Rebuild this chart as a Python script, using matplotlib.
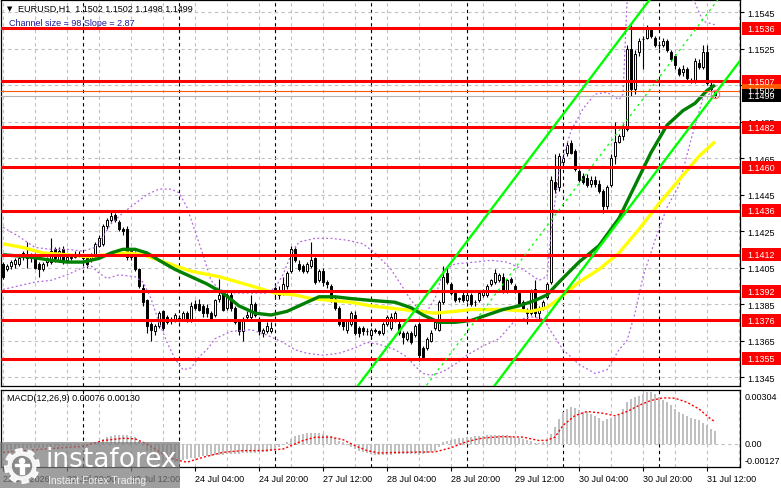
import matplotlib
matplotlib.use("Agg")
import matplotlib.pyplot as plt
from matplotlib.patches import Rectangle, Circle
import numpy as np

plt.rcParams['font.family'] = ['Liberation Sans', 'DejaVu Sans']

# EURUSD H1 candles, bar 0 = 22 Jul 04:00
opens = [
    1.1407, 1.1404, 1.1406, 1.1407, 1.1407, 1.1411, 1.1412, 1.1410, 1.1411, 1.1407,
    1.1404, 1.1408, 1.1408, 1.1415, 1.1409, 1.1415, 1.1409, 1.1410, 1.1411, 1.1412,
    1.1411, 1.1410, 1.1409, 1.1412, 1.1417, 1.1418, 1.1428, 1.1431, 1.1434, 1.1430,
    1.1426, 1.1426, 1.1411, 1.1413, 1.1404, 1.1394, 1.1387, 1.1374, 1.1370, 1.1373,
    1.1381, 1.1378, 1.1377, 1.1376, 1.1377, 1.1377, 1.1380, 1.1376, 1.1385, 1.1385,
    1.1384, 1.1383, 1.1380, 1.1379, 1.1388, 1.1391, 1.1383, 1.1390, 1.1383, 1.1376,
    1.1370, 1.1378, 1.1378, 1.1385, 1.1377, 1.1369, 1.1370, 1.1370, 1.1394, 1.1392,
    1.1391, 1.1395, 1.1403, 1.1415, 1.1407, 1.1406, 1.1403, 1.1406, 1.1410, 1.1398,
    1.1403, 1.1397, 1.1395, 1.1388, 1.1383, 1.1376, 1.1371, 1.1374, 1.1379, 1.1372,
    1.1372, 1.1370, 1.1368, 1.1371, 1.1370, 1.1369, 1.1374, 1.1372, 1.1376, 1.1374,
    1.1369, 1.1366, 1.1369, 1.1368, 1.1374, 1.1361, 1.1361, 1.1365, 1.1372, 1.1371,
    1.1386, 1.1402, 1.1396, 1.1391, 1.1388, 1.1390, 1.1387, 1.1390, 1.1386, 1.1387,
    1.1390, 1.1390, 1.1396, 1.1397, 1.1398, 1.1400, 1.1392, 1.1399, 1.1395, 1.1391,
    1.1386, 1.1382, 1.1380, 1.1393, 1.1380, 1.1383, 1.1389, 1.1397, 1.1452, 1.1449,
    1.1463, 1.1468, 1.1473, 1.1469, 1.1458, 1.1455, 1.1454, 1.1451, 1.1453, 1.1451,
    1.1447, 1.1439, 1.1450, 1.1466, 1.1474, 1.1477, 1.1481, 1.1525, 1.1503, 1.1523,
    1.1530, 1.1531, 1.1535, 1.1531, 1.1527, 1.1527, 1.1529, 1.1523, 1.1521, 1.1514,
    1.1512, 1.1514, 1.1508, 1.1507, 1.1517, 1.1515, 1.1523, 1.1505, 1.1502]
highs = [
    1.1408, 1.1407, 1.1409, 1.1410, 1.1411, 1.1414, 1.1419, 1.1413, 1.1413, 1.1408,
    1.1408, 1.1411, 1.1421, 1.1416, 1.1416, 1.1417, 1.1412, 1.1412, 1.1414, 1.1414,
    1.1412, 1.1411, 1.1413, 1.1419, 1.1423, 1.1429, 1.1432, 1.1436, 1.1435, 1.1431,
    1.1427, 1.1428, 1.1415, 1.1414, 1.1405, 1.1396, 1.1388, 1.1375, 1.1374, 1.1381,
    1.1382, 1.1379, 1.1378, 1.1380, 1.1379, 1.1381, 1.1381, 1.1386, 1.1387, 1.1388,
    1.1385, 1.1385, 1.1381, 1.1388, 1.1399, 1.1392, 1.1391, 1.1392, 1.1384, 1.1377,
    1.1378, 1.1381, 1.1390, 1.1386, 1.1378, 1.1372, 1.1375, 1.1375, 1.1396, 1.1395,
    1.1400, 1.1403, 1.1417, 1.1417, 1.1409, 1.1407, 1.1408, 1.1419, 1.1411, 1.1404,
    1.1405, 1.1398, 1.1396, 1.1389, 1.1384, 1.1377, 1.1377, 1.1381, 1.1381, 1.1373,
    1.1373, 1.1372, 1.1372, 1.1372, 1.1371, 1.1375, 1.1379, 1.1380, 1.1381, 1.1376,
    1.1370, 1.1370, 1.1370, 1.1374, 1.1375, 1.1362, 1.1367, 1.1371, 1.1376, 1.1387,
    1.1406, 1.1406, 1.1397, 1.1392, 1.1389, 1.1392, 1.1392, 1.1391, 1.1387, 1.1392,
    1.1393, 1.1396, 1.1399, 1.1404, 1.1402, 1.1402, 1.1399, 1.1400, 1.1396, 1.1392,
    1.1387, 1.1383, 1.1393, 1.1398, 1.1384, 1.1387, 1.1397, 1.1455, 1.1467, 1.1468,
    1.1467, 1.1474, 1.1475, 1.1470, 1.1459, 1.1457, 1.1456, 1.1455, 1.1455, 1.1453,
    1.1448, 1.1450, 1.1467, 1.1485, 1.1478, 1.1484, 1.1527, 1.1538, 1.1524, 1.1531,
    1.1532, 1.1538, 1.1537, 1.1532, 1.1529, 1.1531, 1.1530, 1.1524, 1.1522, 1.1515,
    1.1516, 1.1515, 1.1509, 1.1520, 1.1519, 1.1527, 1.1527, 1.1508, 1.1502]
lows = [
    1.1399, 1.1403, 1.1404, 1.1405, 1.1406, 1.1409, 1.1405, 1.1408, 1.1404, 1.1400,
    1.1403, 1.1406, 1.1407, 1.1408, 1.1408, 1.1407, 1.1408, 1.1409, 1.1410, 1.1411,
    1.1409, 1.1405, 1.1408, 1.1411, 1.1416, 1.1417, 1.1426, 1.1430, 1.1430, 1.1425,
    1.1423, 1.1409, 1.1409, 1.1403, 1.1394, 1.1384, 1.1369, 1.1365, 1.1368, 1.1372,
    1.1371, 1.1374, 1.1374, 1.1375, 1.1375, 1.1376, 1.1375, 1.1375, 1.1382, 1.1381,
    1.1378, 1.1378, 1.1376, 1.1378, 1.1386, 1.1381, 1.1382, 1.1381, 1.1374, 1.1368,
    1.1365, 1.1377, 1.1377, 1.1378, 1.1368, 1.1367, 1.1369, 1.1369, 1.1389, 1.1388,
    1.1390, 1.1393, 1.1402, 1.1408, 1.1403, 1.1402, 1.1402, 1.1405, 1.1396, 1.1397,
    1.1395, 1.1394, 1.1386, 1.1382, 1.1373, 1.1371, 1.1369, 1.1373, 1.1368, 1.1367,
    1.1368, 1.1368, 1.1366, 1.1369, 1.1368, 1.1368, 1.1373, 1.1371, 1.1375, 1.1368,
    1.1363, 1.1365, 1.1363, 1.1367, 1.1354, 1.1355, 1.1360, 1.1364, 1.1371, 1.1370,
    1.1385, 1.1396, 1.1390, 1.1386, 1.1386, 1.1386, 1.1386, 1.1384, 1.1384, 1.1386,
    1.1389, 1.1389, 1.1395, 1.1396, 1.1397, 1.1391, 1.1391, 1.1396, 1.1391, 1.1384,
    1.1381, 1.1374, 1.1379, 1.1378, 1.1377, 1.1382, 1.1388, 1.1396, 1.1446, 1.1447,
    1.1461, 1.1466, 1.1467, 1.1458, 1.1452, 1.1451, 1.1449, 1.1449, 1.1449, 1.1446,
    1.1435, 1.1437, 1.1449, 1.1462, 1.1473, 1.1475, 1.1480, 1.1499, 1.1500, 1.1521,
    1.1514, 1.1530, 1.1531, 1.1526, 1.1525, 1.1526, 1.1523, 1.1518, 1.1514, 1.1510,
    1.1510, 1.1508, 1.1506, 1.1506, 1.1514, 1.1514, 1.1505, 1.1502, 1.1498]
closes = [
    1.1400, 1.1406, 1.1408, 1.1409, 1.1410, 1.1413, 1.1410, 1.1412, 1.1405, 1.1404,
    1.1407, 1.1410, 1.1414, 1.1410, 1.1414, 1.1409, 1.1411, 1.1411, 1.1412, 1.1412,
    1.1410, 1.1407, 1.1412, 1.1418, 1.1421, 1.1428, 1.1431, 1.1433, 1.1431, 1.1426,
    1.1425, 1.1411, 1.1414, 1.1404, 1.1395, 1.1386, 1.1373, 1.1371, 1.1373, 1.1380,
    1.1372, 1.1375, 1.1376, 1.1379, 1.1377, 1.1380, 1.1376, 1.1384, 1.1383, 1.1382,
    1.1380, 1.1380, 1.1377, 1.1387, 1.1390, 1.1382, 1.1390, 1.1383, 1.1375, 1.1370,
    1.1377, 1.1379, 1.1385, 1.1379, 1.1370, 1.1371, 1.1373, 1.1372, 1.1391, 1.1390,
    1.1396, 1.1402, 1.1415, 1.1409, 1.1404, 1.1403, 1.1407, 1.1409, 1.1397, 1.1403,
    1.1397, 1.1396, 1.1387, 1.1383, 1.1374, 1.1373, 1.1376, 1.1380, 1.1369, 1.1369,
    1.1370, 1.1370, 1.1371, 1.1370, 1.1369, 1.1374, 1.1378, 1.1378, 1.1380, 1.1369,
    1.1367, 1.1369, 1.1364, 1.1373, 1.1357, 1.1356, 1.1366, 1.1369, 1.1375, 1.1386,
    1.1400, 1.1397, 1.1391, 1.1387, 1.1388, 1.1387, 1.1390, 1.1385, 1.1386, 1.1391,
    1.1392, 1.1395, 1.1398, 1.1402, 1.1401, 1.1392, 1.1398, 1.1397, 1.1392, 1.1385,
    1.1383, 1.1380, 1.1392, 1.1380, 1.1383, 1.1386, 1.1396, 1.1453, 1.1448, 1.1466,
    1.1465, 1.1472, 1.1468, 1.1459, 1.1453, 1.1452, 1.1450, 1.1453, 1.1451, 1.1447,
    1.1439, 1.1449, 1.1465, 1.1474, 1.1477, 1.1482, 1.1525, 1.1503, 1.1522, 1.1529,
    1.1530, 1.1536, 1.1532, 1.1527, 1.1527, 1.1529, 1.1524, 1.1519, 1.1516, 1.1511,
    1.1514, 1.1509, 1.1507, 1.1518, 1.1515, 1.1523, 1.1506, 1.1503, 1.1499]

levels = [1.1536, 1.1507, 1.1482, 1.1460, 1.1436, 1.1412, 1.1392, 1.1376, 1.1355]

# moving averages (bar index, price)
fast_bars = [0, 6, 12, 16, 20, 24, 27, 30, 33, 36, 39, 43, 47, 51, 55, 59, 63, 67, 71,
             75, 79, 83, 87, 92, 98, 102, 105, 109, 113, 117, 121, 125, 129, 133, 136,
             139, 144, 149, 154, 158, 162, 166, 170, 173, 176, 178]
fast_ma = [1.1412, 1.1411, 1.1409, 1.1408, 1.1408, 1.1410, 1.1413, 1.1415, 1.1415,
           1.1413, 1.1409, 1.1404, 1.1400, 1.1396, 1.1391, 1.1384, 1.1380, 1.1379, 1.1381,
           1.1385, 1.1389, 1.1389, 1.1388, 1.1387, 1.1386, 1.1383, 1.1379, 1.1375, 1.1375,
           1.1376, 1.1379, 1.1382, 1.1384, 1.1387, 1.1390, 1.1397, 1.1408, 1.1417, 1.1432,
           1.1450, 1.1468, 1.1483, 1.1491, 1.1495, 1.1502, 1.1505]
slow_bars = [0, 5, 10, 16, 21, 26, 31, 35, 39, 43, 47, 54, 62, 68, 73, 77, 82, 87, 92,
             100, 108, 113, 117, 125, 132, 136, 139, 144, 149, 154, 159, 164, 169, 174, 178]
slow_ma = [1.1418, 1.1416, 1.1413, 1.1412, 1.1411, 1.1412, 1.1413, 1.1412, 1.1409, 1.1406,
           1.1403, 1.1400, 1.1395, 1.1391, 1.1390, 1.1388, 1.1387, 1.1386, 1.1384,
           1.1382, 1.1380, 1.1381, 1.1382, 1.1382, 1.1381, 1.1383, 1.1388, 1.1397, 1.1404,
           1.1413, 1.1426, 1.1440, 1.1453, 1.1466, 1.1474]

# bollinger bands
bb_up_bars = [0, 4, 8, 12, 16, 20, 23, 25, 27, 30, 33, 36, 39, 42, 44, 46, 48, 50, 52, 54,
              58, 62, 66, 68, 70, 72, 74, 78, 82, 86, 90, 93, 97, 100, 102, 104, 106, 108,
              110, 113, 118, 122, 126, 130, 134, 136, 137, 139, 142, 145, 148, 151, 154,
              155, 156, 158, 162, 166, 170, 173, 175, 178]
bb_up = [1.1427, 1.1422, 1.1416, 1.1415, 1.1415, 1.1414, 1.1416, 1.1422, 1.1429, 1.1435,
         1.1440, 1.1445, 1.1448, 1.1448, 1.1446, 1.1438, 1.1425, 1.1412, 1.1398, 1.1393,
         1.1391, 1.1391, 1.1391, 1.1394, 1.1401, 1.1412, 1.1419, 1.1421, 1.1421, 1.1420,
         1.1418, 1.1413, 1.1404, 1.1394, 1.1387, 1.1382, 1.1381, 1.1388, 1.1403, 1.1407,
         1.1408, 1.1409, 1.1408, 1.1404, 1.1398, 1.1400, 1.1424, 1.1458, 1.1480, 1.1492,
         1.1500, 1.1501, 1.1497, 1.1500, 1.1550, 1.1562, 1.1565, 1.1562, 1.1560, 1.1550,
         1.1540, 1.1538]
bb_low_bars = [0, 4, 8, 12, 16, 20, 22, 24, 26, 29, 33, 35, 37, 39, 41, 43, 45, 47, 49, 51,
               53, 57, 62, 66, 68, 70, 73, 76, 80, 84, 88, 91, 94, 98, 101, 103, 105, 107,
               110, 113, 116, 120, 124, 128, 132, 135, 137, 140, 144, 148, 151, 154, 156,
               158, 160, 163, 166, 169, 172, 175, 178]
bb_low = [1.1393, 1.1395, 1.1397, 1.1398, 1.1401, 1.1405, 1.1406, 1.1402, 1.1399, 1.1401,
          1.1400, 1.1397, 1.1388, 1.1375, 1.1364, 1.1355, 1.1349, 1.1350, 1.1356, 1.1360,
          1.1366, 1.1370, 1.1371, 1.1368, 1.1366, 1.1364, 1.1360, 1.1358, 1.1357, 1.1358,
          1.1361, 1.1364, 1.1363, 1.1360, 1.1356, 1.1351, 1.1347, 1.1346, 1.1348, 1.1352,
          1.1357, 1.1362, 1.1366, 1.1376, 1.1378, 1.1377, 1.1370, 1.1360, 1.1352, 1.1347,
          1.1349, 1.1360, 1.1365, 1.1380, 1.1400, 1.1420, 1.1438, 1.1450, 1.1475, 1.1498,
          1.1502]

# regression channel end points
channel_bars = [88, 184.25]
channel_top = [1.13381, 1.16173]
channel_mid = [1.12886, 1.15678]
channel_bottom = [1.12391, 1.15183]

# MACD(12,26,9)
macd_hist = [
    -0.00035, -0.00034, -0.00033, -0.00032, -0.00030, -0.00028, -0.00026, -0.00025, -0.00024, -0.00023,
    -0.00022, -0.00020, -0.00018, -0.00016, -0.00015, -0.00014, -0.00013, -0.00012, -0.00010, -0.00008,
    -0.00006, -0.00003, 0.00002, 0.00008, 0.00020, 0.00030, 0.00038, 0.00045, 0.00050, 0.00054,
    0.00054, 0.00050, 0.00045, 0.00040, 0.00020, -0.00010, -0.00040, -0.00070, -0.00090, -0.00102,
    -0.00110, -0.00112, -0.00110, -0.00106, -0.00100, -0.00095, -0.00090, -0.00085, -0.00080, -0.00076,
    -0.00072, -0.00070, -0.00068, -0.00066, -0.00064, -0.00062, -0.00060, -0.00058, -0.00057, -0.00056,
    -0.00055, -0.00054, -0.00053, -0.00052, -0.00050, -0.00048, -0.00045, -0.00040, -0.00030, -0.00020,
    -0.00005, 0.00010, 0.00030, 0.00045, 0.00052, 0.00058, 0.00062, 0.00064, 0.00065, 0.00064,
    0.00060, 0.00052, 0.00045, 0.00035, 0.00020, 0.00010, -0.00005, -0.00020, -0.00030, -0.00040,
    -0.00048, -0.00055, -0.00060, -0.00062, -0.00064, -0.00064, -0.00063, -0.00062, -0.00060, -0.00058,
    -0.00058, -0.00058, -0.00060, -0.00060, -0.00062, -0.00060, -0.00055, -0.00048, -0.00040, -0.00020,
    0.00010, 0.00020, 0.00025, 0.00030, 0.00033, 0.00037, 0.00040, 0.00042, 0.00045, 0.00047,
    0.00049, 0.00050, 0.00052, 0.00053, 0.00054, 0.00053, 0.00050, 0.00047, 0.00040, 0.00033,
    0.00027, 0.00021, 0.00015, 0.00008, 0.00008, 0.00010, 0.00020, 0.00060, 0.00097, 0.00146,
    0.00185, 0.00205, 0.00214, 0.00212, 0.00200, 0.00190, 0.00185, 0.00175, 0.00166, 0.00150,
    0.00136, 0.00145, 0.00150, 0.00156, 0.00170, 0.00205, 0.00244, 0.00263, 0.00273, 0.00283,
    0.00292, 0.00304, 0.00302, 0.00290, 0.00275, 0.00255, 0.00244, 0.00226, 0.00205, 0.00190,
    0.00177, 0.00165, 0.00152, 0.00145, 0.00140, 0.00125, 0.00109, 0.00090, 0.00076]
signal_bars = [0, 10, 20, 25, 30, 33, 36, 40, 43, 46, 50, 55, 60, 65, 70, 75, 78, 82, 85, 88,
               91, 94, 98, 103, 108, 112, 116, 120, 125, 130, 134, 136, 138, 140, 143, 146,
               150, 153, 156, 159, 162, 165, 168, 171, 174, 177, 178]
signal = [-0.00049, -0.00030, -0.00014, 0.00020, 0.00033, 0.00030, 0.00000, -0.00058, -0.00092,
          -0.00107, -0.00078, -0.00049, -0.00039, -0.00039, -0.00030, 0.00020, 0.00039, 0.00040,
          0.00025, -0.00010, -0.00039, -0.00053, -0.00050, -0.00048, -0.00047, -0.00022, 0.00014,
          0.00035, 0.00043, 0.00040, 0.00020, 0.00022, 0.00040, 0.00109, 0.00166, 0.00190,
          0.00180, 0.00165, 0.00190, 0.00226, 0.00255, 0.00270, 0.00268, 0.00244, 0.00205,
          0.00145, 0.00130]

tick_bars = [0, 16, 32, 48, 64, 80, 96, 112, 128, 144, 160, 176]
tick_labels = ["22 Jul 2026", "22 Jul 20:00", "23 Jul 12:00", "24 Jul 04:00", "24 Jul 20:00",
               "27 Jul 12:00", "28 Jul 04:00", "28 Jul 20:00", "29 Jul 12:00", "30 Jul 04:00",
               "30 Jul 20:00", "31 Jul 12:00"]
day_bars = [20, 44, 68, 92, 116, 140, 164]
price_ticks = [1.1345, 1.1365, 1.1385, 1.1405, 1.1425, 1.1445, 1.1465, 1.1485, 1.1505,
               1.1525, 1.1545]

W, H = 781, 489


def fx(px):
    return px / W


def fy(py):
    return 1 - py / H


fig = plt.figure(figsize=(W / 100, H / 100), dpi=100)
ax = fig.add_axes([fx(1), fy(387), 739 / W, 386 / H])
ax2 = fig.add_axes([fx(1), fy(468), 739 / W, 77 / H])

grid_kw = dict(color='#c0c0c0', lw=0.8, ls=(0, (3, 3)), zorder=0)
sep_kw = dict(color='black', lw=0.8, ls=(0, (3, 3)), zorder=0)
for a in (ax, ax2):
    for b in range(0, 185, 8):
        a.axvline(b, **grid_kw)
    for b in day_bars:
        a.axvline(b, **sep_kw)
    for s in a.spines.values():
        s.set_linewidth(0.9)
for v in price_ticks:
    ax.axhline(v, **grid_kw)
ax2.axhline(0, **grid_kw)

# candles
x = np.arange(len(closes))
o = np.array(opens)
c = np.array(closes)
up = c >= o
ax.vlines(x, lows, highs, color='black', lw=0.8, zorder=3)
body = np.maximum(np.abs(c - o), 0.00002)
ax.bar(x, body, bottom=np.minimum(o, c), width=0.72,
       color=np.where(up, 'white', 'black'), edgecolor='black', linewidth=0.7, zorder=4)

# indicators
bb_kw = dict(color='#b266e0', lw=0.9, ls=(0, (1.5, 2)), zorder=5)
ax.plot(bb_up_bars, bb_up, **bb_kw)
ax.plot(bb_low_bars, bb_low, **bb_kw)
ax.plot(slow_bars, slow_ma, color='#ffff00', lw=2.4, zorder=5, solid_capstyle='butt')
ax.plot(fast_bars, fast_ma, color='#008000', lw=2.4, zorder=5, solid_capstyle='butt')

# objects
for lv in levels:
    ax.axhline(lv, color='#ff0000', lw=2.2, zorder=6)
ax.axhline(1.1502, color='#ff5a00', lw=0.8, zorder=6)
ax.axhline(1.1499, color='#b4b4b4', lw=0.8, zorder=6)
ax.plot(channel_bars, channel_top, color='#00ff00', lw=1.7, zorder=7)
ax.plot(channel_bars, channel_bottom, color='#00ff00', lw=1.7, zorder=7)
ax.plot(channel_bars, channel_mid, color='#00ff00', lw=0.9, ls=(0, (2, 3)), zorder=7)
ax.plot(x[-1], 1.1500, 'o', ms=6, mfc='none', mec='#ff7070', mew=0.8, zorder=9)

ax.set_xlim(-0.5, 184.25)
ax.set_ylim(1.13401, 1.15516)
ax.set_xticks([])
ax.yaxis.tick_right()
ax.set_yticks(price_ticks)
# 1.1505 sits completely behind the price boxes in the reference
ax.set_yticklabels(["" if v == 1.1505 else f"{v:.4f}" for v in price_ticks])
ax.tick_params(axis='y', direction='out', length=3, width=0.8, labelsize=6.5, pad=2)


def price_box(val, text, fc, tc='white'):
    tr = ax.get_yaxis_transform()
    ax.add_patch(Rectangle((1 + 2 / 739, val - 6.5 / 18250), 41 / 739, 13 / 18250,
                           transform=tr, fc=fc, ec='none', clip_on=False, zorder=20))
    ax.text(1 + 7 / 739, val, text, transform=tr, color=tc, fontsize=6.5,
            va='center', ha='left', clip_on=False, zorder=21)


for lv in levels:
    price_box(lv, f"{lv:.4f}", '#ff0000')
price_box(1.1502, "1.1502", '#ff5a00')
price_box(1.1499, "1.1499", 'black')

# MACD panel
ax2.bar(x, macd_hist, width=0.7, color='#c0c0c0', zorder=3)
ax2.plot(signal_bars, signal, color='#ff0000', lw=1.0, ls=(0, (1.5, 1.5)), zorder=4)
ax2.set_xlim(-0.5, 184.25)
ax2.set_ylim(-0.00135, 0.00316)
ax2.set_yticks([])
ax2.set_xticks(tick_bars)
ax2.set_xticklabels(tick_labels, ha='left')
ax2.tick_params(axis='x', direction='out', length=3, width=0.8, labelsize=6.5, pad=2)

for txt, py in (("0.00304", 397), ("0.00", 445), ("-0.00127", 462)):
    fig.text(fx(745), fy(py), txt, fontsize=6.5, va='center', ha='left')

fig.text(fx(7), fy(9), "\u25bc", fontsize=5, va='center', ha='left',
         family=['DejaVu Sans'])
fig.text(fx(18), fy(9), "EURUSD,H1  1.1502 1.1502 1.1498 1.1499", fontsize=6.5,
         va='center', ha='left')
fig.text(fx(9), fy(23), "Channel size = 98 Slope = 2.87", fontsize=6.5,
         va='center', ha='left', color='#1c1c9a')
fig.text(fx(7), fy(399), "MACD(12,26,9) 0.00076 0.00130", fontsize=6.5,
         va='center', ha='left')

# watermark
fig.add_artist(Rectangle((0, 0), fx(180), 46 / H, transform=fig.transFigure,
                         fc='#7a7a7a', ec='none', alpha=0.72, zorder=10))
fig.text(fx(45), fy(460), "instaforex", fontsize=19, color='white', va='center',
         ha='left', family=['DejaVu Sans'], zorder=11)
fig.text(fx(48), fy(481), "Instant Forex Trading", fontsize=7.5, color='#eeeeee',
         va='center', ha='left', zorder=11)
ax_logo = fig.add_axes([fx(3), fy(486), 38 / W, 38 / H])
ax_logo.set_zorder(12)
ax_logo.patch.set_alpha(0)
ax_logo.axis('off')
ax_logo.set_xlim(-1.1, 1.1)
ax_logo.set_ylim(-1.1, 1.1)
t = np.linspace(0, 2 * np.pi, 480)
r = np.where((np.floor(t / (2 * np.pi / 16)) % 2) == 0, 1.0, 0.8)
ax_logo.fill(r * np.cos(t), r * np.sin(t), color='white', alpha=0.9)
ax_logo.add_patch(Circle((0, 0), 0.55, color='#8a8a8a'))
ax_logo.add_patch(Circle((0, 0.28), 0.15, color='white'))
ax_logo.add_patch(Rectangle((-0.12, -0.45), 0.24, 0.55, color='white'))
ax_logo.add_patch(Rectangle((-0.42, -0.02), 0.84, 0.14, color='white'))

fig.savefig("out.png", dpi=100)
